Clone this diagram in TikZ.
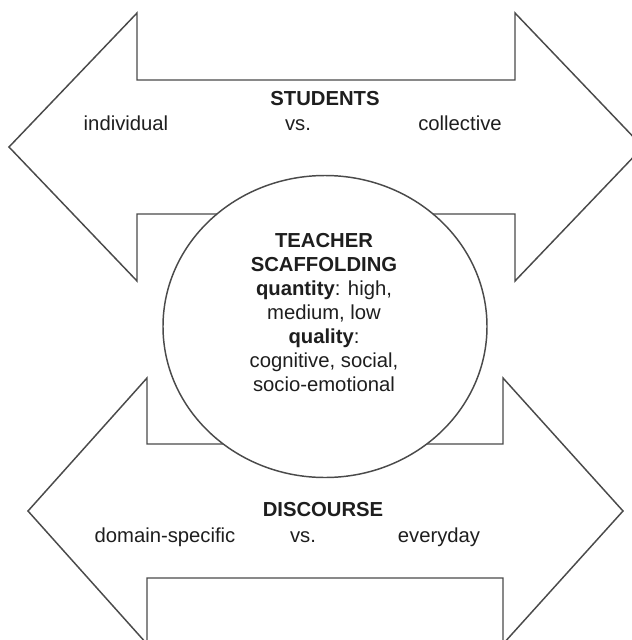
\documentclass[tikz,border=0pt]{standalone}
\usepackage{fontspec}
\setmainfont{Liberation Sans}
\usetikzlibrary{shapes.geometric}
\definecolor{edge}{HTML}{4A4A4A}
\definecolor{ink}{HTML}{1E1E1E}
\tikzset{
  band/.style={draw=edge, line width=1.1pt, fill=white, line join=miter},
  hub/.style={ellipse, draw=edge, line width=1.1pt, fill=white, inner sep=0pt},
  lbl/.style={anchor=base, inner sep=0pt, text=ink, font=\fontsize{15.2}{18}\selectfont},
  bold lbl/.style={lbl, font=\fontsize{15.2}{18}\selectfont\bfseries},
}
\begin{document}
\begin{tikzpicture}[x=0.75pt, y=-0.75pt]
  \useasboundingbox (0,0) rectangle (632,640);
  \clip (0,0) rectangle (632,640);

  % upper double arrow (students)
  \draw[band] (9,147) -- (137,13) -- (137,80) -- (515,80) -- (515,13) -- (643,147)
    -- (515,281) -- (515,214) -- (137,214) -- (137,281) -- cycle;

  % lower double arrow (discourse)
  \draw[band] (28,511) -- (147,378) -- (147,444) -- (503,444) -- (503,378) -- (623,511)
    -- (503,644) -- (503,578) -- (147,578) -- (147,644) -- cycle;

  % central ellipse
  \node[hub, minimum width=243pt, minimum height=226.5pt] (hub) at (325,326.5) {};

  % labels on the upper arrow
  \node[bold lbl] (stu) at (325,105) {STUDENTS};
  \node[lbl] (ind) at (126,130) {individual};
  \node[lbl] (vs1) at (298,130) {vs.};
  \node[lbl] (col) at (460,130) {collective};

  % labels on the lower arrow
  \node[bold lbl] (dis) at (323,516) {DISCOURSE};
  \node[lbl] (dom) at (165,542) {domain-specific};
  \node[lbl] (vs2) at (303,542) {vs.};
  \node[lbl] (evd) at (439,542) {everyday};

  % labels inside the ellipse
  \node[bold lbl] (t1) at (324,247) {TEACHER};
  \node[bold lbl] (t2) at (324,271) {SCAFFOLDING};
  \node[lbl] (t3) at (324,295) {\textbf{quantity}: high,};
  \node[lbl] (t4) at (324,319) {medium, low};
  \node[lbl] (t5) at (324,343) {\textbf{quality}:};
  \node[lbl] (t6) at (324,367) {cognitive, social,};
  \node[lbl] (t7) at (324,391) {socio-emotional};
\end{tikzpicture}
\end{document}
